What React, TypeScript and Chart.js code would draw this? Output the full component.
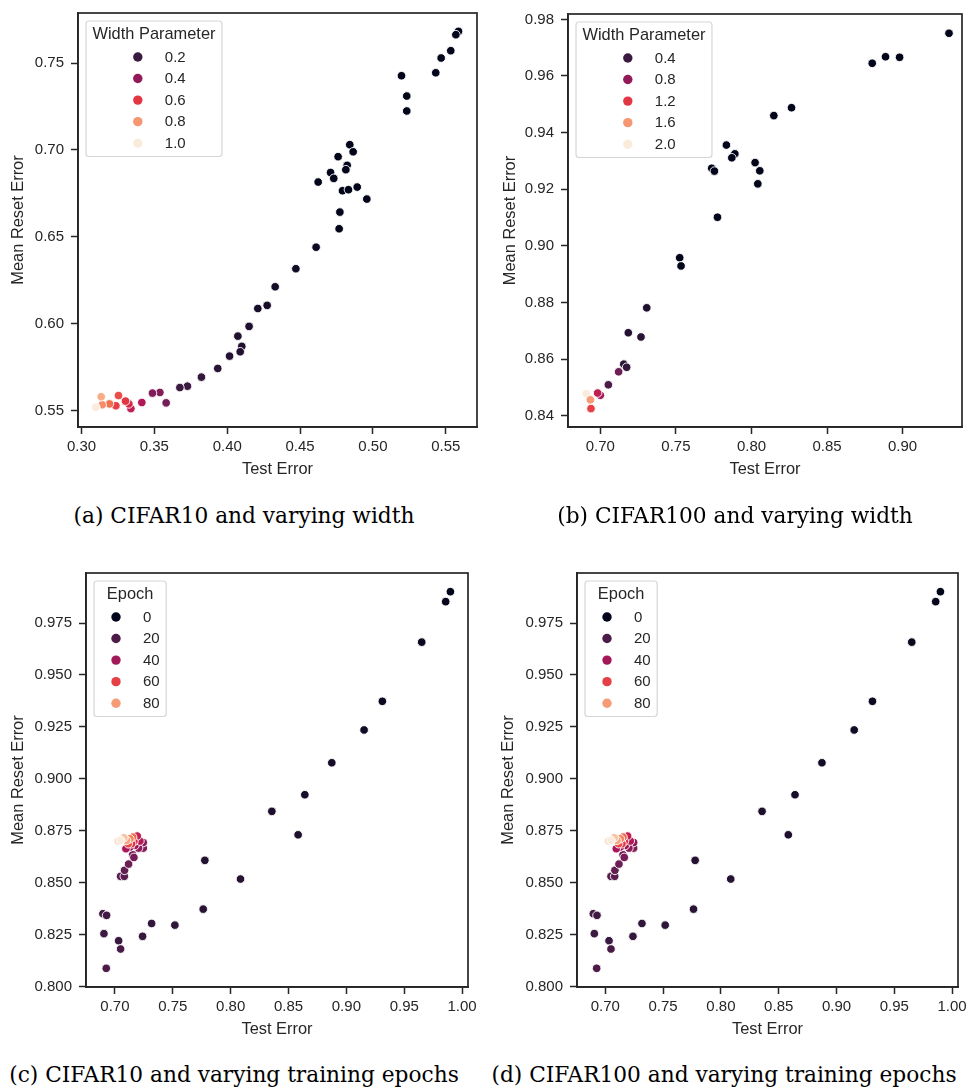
import React, { useEffect, useRef } from "react";
import { Chart, registerables } from "chart.js";

Chart.register(...registerables);

// ---------- Panel (a): CIFAR10, varying width ----------
const A_TEST_ERROR = [0.5587, 0.5569, 0.5534, 0.5468, 0.5431, 0.5196, 0.5232, 0.5232, 0.4841, 0.4864, 0.4761, 0.4823, 0.4814, 0.4709, 0.4731, 0.4624, 0.4791, 0.4832, 0.4892, 0.4958, 0.4773, 0.4768, 0.461, 0.4471, 0.4329, 0.4274, 0.421, 0.415, 0.4073, 0.41, 0.4089, 0.4016, 0.3935, 0.3823, 0.3727, 0.3675, 0.3538, 0.3487, 0.3581, 0.3414, 0.3339, 0.3325, 0.3302, 0.3254, 0.3236, 0.3192, 0.3142, 0.3135, 0.3098];
const A_RESET_ERROR = [0.7682, 0.7663, 0.7571, 0.7529, 0.7444, 0.7427, 0.731, 0.7224, 0.703, 0.6989, 0.6961, 0.6911, 0.6886, 0.687, 0.6836, 0.6815, 0.6765, 0.6771, 0.6786, 0.6717, 0.6642, 0.6546, 0.644, 0.6316, 0.6212, 0.6105, 0.6087, 0.5984, 0.5928, 0.5869, 0.5838, 0.5813, 0.5742, 0.5692, 0.564, 0.5632, 0.5604, 0.56, 0.5544, 0.5546, 0.5511, 0.5538, 0.5554, 0.5586, 0.5527, 0.5538, 0.5533, 0.5579, 0.5519];
const A_WIDTH = [0.05, 0.05, 0.05, 0.05, 0.05, 0.05, 0.05, 0.05, 0.05, 0.05, 0.05, 0.05, 0.05, 0.05, 0.05, 0.05, 0.05, 0.05, 0.05, 0.05, 0.05, 0.05, 0.08, 0.09, 0.1, 0.11, 0.11, 0.12, 0.13, 0.13, 0.13, 0.14, 0.15, 0.18, 0.2, 0.2, 0.36, 0.36, 0.33, 0.47, 0.5, 0.55, 0.6, 0.65, 0.62, 0.72, 0.78, 0.85, 1.0];
const A_X_TICKS = [0.3, 0.35, 0.4, 0.45, 0.5, 0.55];
const A_Y_TICKS = [0.55, 0.6, 0.65, 0.7, 0.75];
const A_LEGEND = [0.2, 0.4, 0.6, 0.8, 1.0];

// ---------- Panel (b): CIFAR100, varying width ----------
const B_TEST_ERROR = [0.9307, 0.8887, 0.898, 0.8799, 0.8265, 0.8148, 0.7834, 0.789, 0.787, 0.7737, 0.7755, 0.8024, 0.8055, 0.8042, 0.7775, 0.7525, 0.7534, 0.7307, 0.7185, 0.7269, 0.7155, 0.7174, 0.7121, 0.7053, 0.7, 0.6982, 0.6907, 0.6934, 0.6938];
const B_RESET_ERROR = [0.9751, 0.9668, 0.9666, 0.9645, 0.9488, 0.946, 0.9356, 0.9325, 0.9311, 0.9274, 0.9264, 0.9294, 0.9265, 0.9219, 0.9101, 0.8958, 0.8929, 0.8781, 0.8693, 0.8678, 0.8582, 0.8571, 0.8555, 0.8509, 0.8472, 0.848, 0.8478, 0.8456, 0.8425];
const B_WIDTH = [0.1, 0.1, 0.1, 0.1, 0.1, 0.1, 0.1, 0.1, 0.1, 0.1, 0.1, 0.1, 0.1, 0.1, 0.1, 0.1, 0.1, 0.25, 0.28, 0.3, 0.32, 0.35, 0.63, 0.48, 0.86, 1.0, 2.0, 1.62, 1.24];
const B_X_TICKS = [0.7, 0.75, 0.8, 0.85, 0.9];
const B_Y_TICKS = [0.84, 0.86, 0.88, 0.9, 0.92, 0.94, 0.96, 0.98];
const B_LEGEND = [0.4, 0.8, 1.2, 1.6, 2.0];

// ---------- Panel (c): CIFAR10, varying training epochs ----------
const C_TEST_ERROR = [0.9899, 0.9858, 0.9651, 0.9311, 0.9153, 0.8874, 0.8641, 0.8356, 0.8583, 0.7777, 0.8085, 0.7763, 0.7518, 0.7317, 0.7239, 0.6896, 0.6928, 0.6905, 0.7032, 0.7049, 0.6925, 0.7049, 0.7081, 0.7083, 0.7118, 0.7153, 0.7164, 0.7245, 0.7245, 0.7204, 0.7173, 0.713, 0.7095, 0.7216, 0.7193, 0.7164, 0.7144, 0.7115, 0.7153, 0.713, 0.7101, 0.7078, 0.7029, 0.7049];
const C_RESET_ERROR = [0.9901, 0.9853, 0.9658, 0.9373, 0.9235, 0.9077, 0.8923, 0.8843, 0.873, 0.8607, 0.8517, 0.8372, 0.8295, 0.8303, 0.8241, 0.835, 0.8342, 0.8254, 0.822, 0.818, 0.8087, 0.853, 0.853, 0.8559, 0.8589, 0.8634, 0.8621, 0.8666, 0.8693, 0.8666, 0.8679, 0.8671, 0.8663, 0.87, 0.8724, 0.8698, 0.8687, 0.8687, 0.8719, 0.8711, 0.8703, 0.8716, 0.87, 0.8703];
const C_EPOCH = [0, 1, 2, 3, 4, 5, 6, 7, 8, 9, 10, 11, 12, 13, 14, 18, 17, 16, 15, 19, 20, 22, 23, 25, 27, 29, 30, 32, 34, 36, 38, 40, 42, 44, 48, 55, 58, 62, 68, 75, 82, 90, 95, 100];
const C_X_TICKS = [0.7, 0.75, 0.8, 0.85, 0.9, 0.95, 1.0];
const C_Y_TICKS = [0.8, 0.825, 0.85, 0.875, 0.9, 0.925, 0.95, 0.975];
const C_LEGEND = [0, 20, 40, 60, 80];

// ---------- Panel (d): CIFAR100, varying training epochs ----------
const D_TEST_ERROR = C_TEST_ERROR;
const D_RESET_ERROR = C_RESET_ERROR;
const D_EPOCH = C_EPOCH;
const D_X_TICKS = C_X_TICKS;
const D_Y_TICKS = C_Y_TICKS;
const D_LEGEND = C_LEGEND;

// ---------- styling ----------
const SANS = '"Liberation Sans", Arial, sans-serif';
const INK = "#262626";
const ROCKET: number[][] = [
  [0, 3, 5, 26],
  [1 / 7, 53, 25, 62],
  [2 / 7, 112, 31, 87],
  [3 / 7, 173, 23, 89],
  [4 / 7, 225, 51, 66],
  [5 / 7, 243, 118, 81],
  [6 / 7, 246, 180, 143],
  [1, 250, 235, 221],
];

function rocket(t: number): string {
  const v = Math.max(0, Math.min(1, t));
  for (let i = 1; i < ROCKET.length; i++) {
    const a = ROCKET[i - 1];
    const b = ROCKET[i];
    if (v <= b[0]) {
      const f = (v - a[0]) / (b[0] - a[0]);
      const c = [1, 2, 3].map((k) => Math.round(a[k] + (b[k] - a[k]) * f));
      return `rgb(${c[0]},${c[1]},${c[2]})`;
    }
  }
  return "rgb(250,235,221)";
}

type PanelDef = {
  xs: number[];
  ys: number[];
  hues: number[];
  hueMin: number;
  hueMax: number;
  xRange: [number, number];
  yRange: [number, number];
  xTicks: number[];
  yTicks: number[];
  xDec: number;
  yDec: number;
  legendTitle: string;
  legendValues: number[];
  legendDec: number;
  area: [number, number, number, number];
  yw: number;
  yTitleGap: number;
};

const PANELS: PanelDef[] = [
  {
    xs: A_TEST_ERROR, ys: A_RESET_ERROR, hues: A_WIDTH, hueMin: 0.05, hueMax: 1.0,
    xRange: [0.2976, 0.5714], yRange: [0.5405, 0.7788],
    xTicks: A_X_TICKS, yTicks: A_Y_TICKS, xDec: 2, yDec: 2,
    legendTitle: "Width Parameter", legendValues: A_LEGEND, legendDec: 1,
    area: [78, 13, 477, 427], yw: 78, yTitleGap: 60,
  },
  {
    xs: B_TEST_ERROR, ys: B_RESET_ERROR, hues: B_WIDTH, hueMin: 0.1, hueMax: 2.0,
    xRange: [0.6786, 0.9393], yRange: [0.836, 0.9819],
    xTicks: B_X_TICKS, yTicks: B_Y_TICKS, xDec: 2, yDec: 2,
    legendTitle: "Width Parameter", legendValues: B_LEGEND, legendDec: 1,
    area: [568, 14, 962, 427], yw: 80, yTitleGap: 58,
  },
  {
    xs: C_TEST_ERROR, ys: C_RESET_ERROR, hues: C_EPOCH, hueMin: 0, hueMax: 100,
    xRange: [0.675, 1.0051], yRange: [0.7997, 0.9991],
    xTicks: C_X_TICKS, yTicks: C_Y_TICKS, xDec: 2, yDec: 3,
    legendTitle: "Epoch", legendValues: C_LEGEND, legendDec: 0,
    area: [86, 573, 468, 987], yw: 80, yTitleGap: 68,
  },
  {
    xs: D_TEST_ERROR, ys: D_RESET_ERROR, hues: D_EPOCH, hueMin: 0, hueMax: 100,
    xRange: [0.6755, 1.0051], yRange: [0.7997, 0.9991],
    xTicks: D_X_TICKS, yTicks: D_Y_TICKS, xDec: 2, yDec: 3,
    legendTitle: "Epoch", legendValues: D_LEGEND, legendDec: 0,
    area: [577, 573, 958, 987], yw: 80, yTitleGap: 69,
  },
];

const CAPTIONS = [
  { text: "(a) CIFAR10 and varying width", cx: 244, cy: 516 },
  { text: "(b) CIFAR100 and varying width", cx: 735, cy: 516 },
  { text: "(c) CIFAR10 and varying training epochs", cx: 234, cy: 1075 },
  { text: "(d) CIFAR100 and varying training epochs", cx: 724, cy: 1075 },
];

const framePlugin = {
  id: "frame",
  afterDraw(chart: any) {
    const { ctx, chartArea } = chart;
    const { left, top, right, bottom } = chartArea;
    ctx.save();
    ctx.strokeStyle = INK;
    ctx.lineWidth = 1.7;
    ctx.strokeRect(left, top, right - left, bottom - top);
    ctx.restore();
  },
};

const legendPlugin = {
  id: "insetLegend",
  afterDatasetsDraw(chart: any, _args: any, o: any) {
    if (!o || !o.labels) return;
    const { ctx, chartArea } = chart;
    const pad = 6.5;
    ctx.save();
    ctx.font = `16.4px ${SANS}`;
    const titleW = ctx.measureText(o.title).width;
    ctx.font = `15px ${SANS}`;
    const labelW = Math.max(...o.labels.map((l: string) => ctx.measureText(l).width));
    const colW = 42.5 + labelW;
    const innerW = Math.max(titleW, colW);
    const bw = innerW + 2 * pad;
    const bh = 135.5;
    const bx = chartArea.left + 8;
    const by = chartArea.top + 8;
    const r = 3;
    ctx.beginPath();
    ctx.moveTo(bx + r, by);
    ctx.lineTo(bx + bw - r, by);
    ctx.quadraticCurveTo(bx + bw, by, bx + bw, by + r);
    ctx.lineTo(bx + bw, by + bh - r);
    ctx.quadraticCurveTo(bx + bw, by + bh, bx + bw - r, by + bh);
    ctx.lineTo(bx + r, by + bh);
    ctx.quadraticCurveTo(bx, by + bh, bx, by + bh - r);
    ctx.lineTo(bx, by + r);
    ctx.quadraticCurveTo(bx, by, bx + r, by);
    ctx.closePath();
    ctx.fillStyle = "rgba(255,255,255,0.8)";
    ctx.fill();
    ctx.strokeStyle = "#d6d6d6";
    ctx.lineWidth = 1.2;
    ctx.stroke();

    ctx.fillStyle = INK;
    ctx.textBaseline = "middle";
    ctx.textAlign = "center";
    ctx.font = `16.4px ${SANS}`;
    ctx.fillText(o.title, bx + bw / 2, by + 13.5);

    const colLeft = bx + pad + (innerW - colW) / 2;
    ctx.font = `15px ${SANS}`;
    ctx.textAlign = "left";
    o.labels.forEach((lab: string, i: number) => {
      const y = by + 36 + i * 21.55;
      ctx.beginPath();
      ctx.arc(colLeft + 15.5, y, 4.7, 0, Math.PI * 2);
      ctx.fillStyle = o.colors[i];
      ctx.fill();
      ctx.fillStyle = INK;
      ctx.fillText(lab, colLeft + 42.5, y + 0.5);
    });
    ctx.restore();
  },
};

function PanelChart({ p }: { p: PanelDef }) {
  const ref = useRef<HTMLCanvasElement>(null);
  const [l, t, r, b] = p.area;
  const YW = p.yw;
  const PT = 16;
  const PR = 22;
  const XH = 62;
  const W = r - l + YW + PR;
  const H = b - t + PT + XH;

  useEffect(() => {
    if (!ref.current) return;
    const norm = (h: number) => (h - p.hueMin) / (p.hueMax - p.hueMin);
    const points = p.xs.map((x, i) => ({ x, y: p.ys[i] }));
    const colors = p.hues.map((h) => rocket(norm(h)));
    const lh = 16.4 * 1.2;
    const chart = new Chart(ref.current, {
      type: "scatter",
      data: {
        datasets: [
          {
            data: points,
            backgroundColor: colors,
            borderColor: "#ffffff",
            borderWidth: 0.9,
            pointRadius: 4.3,
            pointHoverRadius: 4.3,
          },
        ],
      },
      options: {
        responsive: false,
        animation: false,
        events: [],
        layout: { padding: { left: 0, top: PT, right: PR, bottom: 0 } },
        plugins: {
          legend: { display: false },
          tooltip: { enabled: false },
          insetLegend: {
            title: p.legendTitle,
            labels: p.legendValues.map((v) => v.toFixed(p.legendDec)),
            colors: p.legendValues.map((v) => rocket(norm(v))),
          },
        } as any,
        scales: {
          x: {
            type: "linear",
            min: p.xRange[0],
            max: p.xRange[1],
            afterBuildTicks: (s: any) => {
              s.ticks = p.xTicks.map((v) => ({ value: v }));
            },
            afterFit: (s: any) => {
              s.height = XH;
            },
            ticks: {
              autoSkip: false,
              maxRotation: 0,
              padding: 4,
              color: INK,
              font: { family: SANS, size: 15 },
              callback: (v: any) => Number(v).toFixed(p.xDec),
            },
            grid: {
              display: true,
              drawOnChartArea: false,
              drawTicks: true,
              tickLength: 7,
              tickWidth: 1.5,
              tickColor: INK,
            },
            border: { display: true, color: INK, width: 1.7 },
            title: {
              display: true,
              text: "Test Error",
              color: INK,
              font: { family: SANS, size: 16.4 },
              padding: { top: 0, bottom: XH - 42 - lh / 2 },
            },
          },
          y: {
            type: "linear",
            min: p.yRange[0],
            max: p.yRange[1],
            afterBuildTicks: (s: any) => {
              s.ticks = p.yTicks.map((v) => ({ value: v }));
            },
            afterFit: (s: any) => {
              s.width = YW;
            },
            ticks: {
              autoSkip: false,
              padding: 7,
              color: INK,
              font: { family: SANS, size: 15 },
              callback: (v: any) => Number(v).toFixed(p.yDec),
            },
            grid: {
              display: true,
              drawOnChartArea: false,
              drawTicks: true,
              tickLength: 7,
              tickWidth: 1.5,
              tickColor: INK,
            },
            border: { display: true, color: INK, width: 1.7 },
            title: {
              display: true,
              text: "Mean Reset Error",
              color: INK,
              font: { family: SANS, size: 16.4 },
              padding: { top: YW - p.yTitleGap - lh / 2, bottom: 0 },
            },
          },
        },
      },
      plugins: [legendPlugin, framePlugin],
    } as any);
    return () => chart.destroy();
  }, []);

  return (
    <canvas
      ref={ref}
      width={W}
      height={H}
      style={{ position: "absolute", left: l - YW, top: t - PT, width: W, height: H }}
    />
  );
}

export default function App() {
  return (
    <div style={{ position: "absolute", left: 0, top: 0, width: 970, height: 1088, background: "#ffffff", overflow: "hidden" }}>
      {PANELS.map((p, i) => (
        <PanelChart key={i} p={p} />
      ))}
      {CAPTIONS.map((c, i) => (
        <div
          key={"c" + i}
          style={{
            position: "absolute",
            left: c.cx - 250,
            width: 500,
            top: c.cy - 14,
            height: 28,
            lineHeight: "28px",
            textAlign: "center",
            fontFamily: '"DejaVu Serif", serif',
            fontSize: 21.7,
            color: "#000",
            whiteSpace: "nowrap",
          }}
        >
          {c.text}
        </div>
      ))}
    </div>
  );
}
